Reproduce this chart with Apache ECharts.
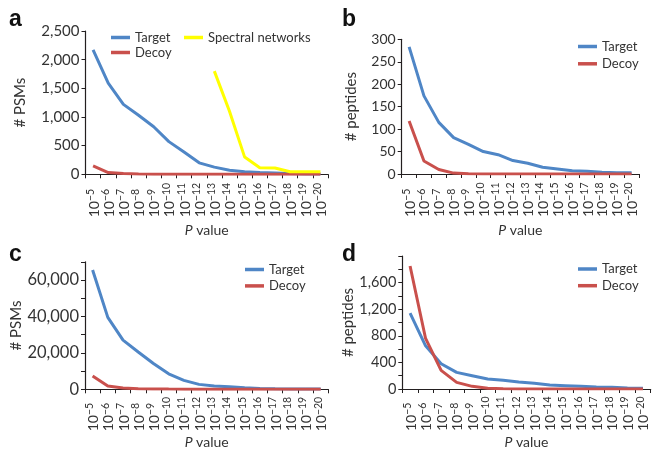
<!DOCTYPE html>
<html>
<head>
<meta charset="utf-8">
<script src="https://cdn.jsdelivr.net/npm/echarts@6/dist/echarts.min.js"></script>
<style>
html,body{margin:0;padding:0;background:#fff;}
#chart{width:653px;height:449px;}
</style>
</head>
<body>
<div id="chart"></div>
<script>
// ---- data ----
var pValues = ['-5','-6','-7','-8','-9','-10','-11','-12','-13','-14','-15','-16','-17','-18','-19','-20'];

var aTarget = [2170, 1590, 1220, 1030, 830, 570, 390, 200, 125, 70, 46, 30, 23, 12, 6, 5];
var aDecoy  = [145, 30, 12, 5, 3, 2, 2, 1, 1, 1, 1, 1, 0, 0, 0, 0];
var aSpectral = [null, null, null, null, null, null, null, null, 1800, 1100, 300, 115, 110, 45, 45, 45];

var bTarget = [283, 174, 115, 81, 66, 50, 43, 30, 24, 15, 11, 7, 6, 4, 3, 3];
var bDecoy  = [118, 29, 10, 2, 0.5, 0, 0, 0, 0, 0, 0, 0, 0, 0, 0, 0];

var cTarget = [65500, 39500, 27000, 20500, 14200, 8500, 4900, 2700, 1800, 1400, 900, 500, 300, 200, 150, 100];
var cDecoy  = [7300, 1800, 700, 350, 200, 100, 60, 40, 30, 20, 10, 10, 5, 5, 5, 5];

var dTarget = [1140, 650, 380, 250, 200, 150, 130, 105, 85, 60, 50, 40, 30, 25, 15, 10];
var dDecoy  = [1850, 760, 280, 100, 40, 10, 3, 1, 1, 0, 0, 0, 0, 0, 0, 0];

// ---- styles ----
var BLUE = '#4f86c6', RED = '#c9504c', YELLOW = '#ffff00';
var FONT = 'Lato';
var TXT = '#333';

function thousands(v){ return String(v).replace(/\B(?=(\d{3})+(?!\d))/g, ','); }

function xAxis(gi, margin, nameGap){
  return {
    type:'category', gridIndex:gi, data:pValues, boundaryGap:true,
    axisLine:{lineStyle:{color:'#231f20', width:1.2}},
    axisTick:{show:true, length:4, lineStyle:{color:'#231f20'}},
    axisLabel:{
      rotate:90, interval:0, margin:margin, align:'left', color:TXT, fontFamily:FONT,
      formatter:function(v){ return '{b|10}{s|' + v.replace('-', '\u2212') + '}'; },
      rich:{
        b:{fontSize:14, fontFamily:FONT, color:TXT, lineHeight:16, verticalAlign:'bottom'},
        s:{fontSize:10.5, fontFamily:FONT, color:TXT, lineHeight:11, verticalAlign:'top'}
      }
    },
    name:'{i|P} value', nameLocation:'middle', nameGap:nameGap,
    nameTextStyle:{fontFamily:FONT, fontSize:14, color:TXT,
      rich:{i:{fontStyle:'italic', fontFamily:FONT, fontSize:14, color:TXT}}},
    splitLine:{show:false}
  };
}

function yAxis(gi, max, interval, labelEvery, labelMax, name, gap, fs){
  return {
    type:'value', gridIndex:gi, min:0, max:max, interval:interval,
    axisLine:{show:true, lineStyle:{color:'#231f20', width:1.2}},
    axisTick:{show:true, length:4, lineStyle:{color:'#231f20'}},
    splitLine:{show:false},
    axisLabel:{color:TXT, fontFamily:FONT, fontSize:fs, margin:6,
      formatter:function(v){ return (v % labelEvery === 0 && v <= labelMax) ? thousands(v) : ''; }},
    name:name, nameLocation:'middle', nameRotate:90, nameGap:gap,
    nameTextStyle:{fontFamily:FONT, fontSize:15, color:TXT}
  };
}

function line(name, gi, data, color){
  return {type:'line', name:name, xAxisIndex:gi, yAxisIndex:gi, data:data,
    showSymbol:false, symbol:'none', lineStyle:{color:color, width:3}, itemStyle:{color:color},
    connectNulls:false, animation:false};
}

function legend(left, top, names, gap){
  return {left:left, top:top, orient:'vertical', data:names, icon:'rect',
    itemWidth:19, itemHeight:3.5, itemGap:gap, padding:0,
    textStyle:{fontFamily:FONT, fontSize:13, color:TXT, lineHeight:13}};
}

var option = {
  animation:false,
  grid:[
    {left:85.5, top:31, width:242.5, height:143.3, containLabel:false, outerBoundsMode:'none'},
    {left:401.7, top:39.3, width:237.3, height:134.7, containLabel:false, outerBoundsMode:'none'},
    {left:85, top:261.8, width:243.3, height:127.5, containLabel:false, outerBoundsMode:'none'},
    {left:402.3, top:256, width:248.4, height:133, containLabel:false, outerBoundsMode:'none'}
  ],
  xAxis:[xAxis(0, 43, 49), xAxis(1, 43, 49), xAxis(2, 42, 46), xAxis(3, 42, 46)],
  yAxis:[
    yAxis(0, 2500, 500, 500, 2500, '# PSMs', 58, 15),
    yAxis(1, 300, 50, 50, 300, '# peptides', 43, 14),
    yAxis(2, 70000, 10000, 20000, 60000, '# PSMs', 58, 16.5),
    yAxis(3, 2000, 200, 400, 1600, '# peptides', 46, 14.5)
  ],
  legend:[
    legend(111, 31, ['Target','Decoy'], 2),
    legend(184, 31, ['Spectral networks'], 2),
    legend(578, 40, ['Target','Decoy'], 4.3),
    legend(245, 263, ['Target','Decoy'], 3.4),
    legend(578, 262.5, ['Target','Decoy'], 3.7)
  ],
  series:[
    line('Target', 0, aTarget, BLUE),
    line('Decoy', 0, aDecoy, RED),
    line('Spectral networks', 0, aSpectral, YELLOW),
    line('Target', 1, bTarget, BLUE),
    line('Decoy', 1, bDecoy, RED),
    line('Target', 2, cTarget, BLUE),
    line('Decoy', 2, cDecoy, RED),
    line('Target', 3, dTarget, BLUE),
    line('Decoy', 3, dDecoy, RED)
  ],
  graphic:[
    {type:'text', left:9, top:8, style:{text:'a', font:'bold 23px "Liberation Sans"', fill:'#111'}},
    {type:'text', left:342, top:8, style:{text:'b', font:'bold 23px "Liberation Sans"', fill:'#111'}},
    {type:'text', left:9, top:243, style:{text:'c', font:'bold 23px "Liberation Sans"', fill:'#111'}},
    {type:'text', left:342, top:243, style:{text:'d', font:'bold 23px "Liberation Sans"', fill:'#111'}}
  ]
};

var chart = echarts.init(document.getElementById('chart'), null, {renderer:'canvas'});
chart.setOption(option);
</script>
</body>
</html>
